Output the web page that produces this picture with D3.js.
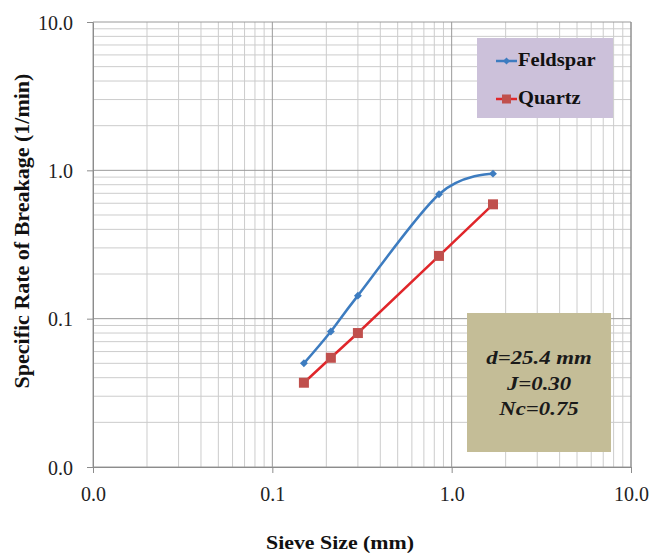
<!DOCTYPE html>
<html><head><meta charset="utf-8">
<script src="https://cdn.jsdelivr.net/npm/d3@7"></script>
<style>body{margin:0;background:#fff}svg{display:block}</style>
</head><body>
<svg id="c" width="651" height="556"></svg>
<script>
const sieveSize = [0.15, 0.212, 0.3, 0.85, 1.7];
const feldspar = [0.050, 0.082, 0.143, 0.69, 0.95];
const quartz = [0.037, 0.0545, 0.080, 0.265, 0.59];
const tickValues = [0.01, 0.1, 1, 10];
const tickLabels = ["0.0", "0.1", "1.0", "10.0"];
const seriesNames = ["Feldspar", "Quartz"];
const annotation = ["d=25.4 mm", "J=0.30", "Nc=0.75"];

const svg = d3.select("#c");
const L = 93, R = 631, T = 22, B = 467;
const x = d3.scaleLog().domain([0.01, 10]).range([L, R]);
const y = d3.scaleLog().domain([0.01, 10]).range([B, T]);
const serif = "'Liberation Serif','Times New Roman',serif";

// minor grid
const minors = [];
[0.01, 0.1, 1].forEach(d => { for (let k = 2; k <= 9; k++) minors.push(d * k); });
const g = svg.append("g");
g.selectAll(".vx").data(minors).join("line")
  .attr("x1", d => x(d)).attr("x2", d => x(d)).attr("y1", T).attr("y2", B)
  .attr("stroke", "#cccccc").attr("stroke-width", 1);
g.selectAll(".hy").data(minors).join("line")
  .attr("y1", d => y(d)).attr("y2", d => y(d)).attr("x1", L).attr("x2", R)
  .attr("stroke", "#cccccc").attr("stroke-width", 1);
// major grid
g.selectAll(".mx").data(tickValues).join("line")
  .attr("x1", d => x(d)).attr("x2", d => x(d)).attr("y1", T).attr("y2", B)
  .attr("stroke", "#9a9a9a").attr("stroke-width", 1);
g.selectAll(".my").data(tickValues).join("line")
  .attr("y1", d => y(d)).attr("y2", d => y(d)).attr("x1", L).attr("x2", R)
  .attr("stroke", "#9a9a9a").attr("stroke-width", 1);

// axes
const xAxis = d3.axisBottom(x).tickValues(tickValues).tickFormat((d, i) => tickLabels[i]).tickSize(6).tickSizeOuter(0);
const yAxis = d3.axisLeft(y).tickValues(tickValues).tickFormat((d, i) => tickLabels[i]).tickSize(6).tickPadding(14).tickSizeOuter(0);
const gx = svg.append("g").attr("transform", `translate(0,${B})`).call(xAxis);
const gy = svg.append("g").attr("transform", `translate(${L},0)`).call(yAxis);
[gx, gy].forEach(a => {
  a.selectAll("path,line").attr("stroke", "#8c8c8c");
  a.selectAll("text").attr("font-family", serif).attr("font-size", 20).attr("fill", "#222");
});
gx.selectAll("text").attr("y", 34).attr("dy", 0);
gy.selectAll("text").attr("dy", "0.35em");
// right border
svg.append("line").attr("x1", R).attr("x2", R).attr("y1", T).attr("y2", B).attr("stroke", "#8c8c8c");

// series
const blue = "#3d7cc0", red = "#e0262a", redMarker = "#c0504d";
const fData = sieveSize.map((s, i) => [s, feldspar[i]]);
const qData = sieveSize.map((s, i) => [s, quartz[i]]);
svg.append("path").datum(fData)
  .attr("d", d3.line().x(d => x(d[0])).y(d => y(d[1])).curve(d3.curveCatmullRom.alpha(0)))
  .attr("fill", "none").attr("stroke", blue).attr("stroke-width", 2.5);
svg.append("path").datum(qData)
  .attr("d", d3.line().x(d => x(d[0])).y(d => y(d[1])))
  .attr("fill", "none").attr("stroke", red).attr("stroke-width", 2.5);
svg.selectAll(".fm").data(fData).join("path")
  .attr("transform", d => `translate(${x(d[0])},${y(d[1])})`)
  .attr("d", d3.symbol(d3.symbolDiamond2, 40)()).attr("fill", blue);
svg.selectAll(".qm").data(qData).join("rect")
  .attr("x", d => x(d[0]) - 5).attr("y", d => y(d[1]) - 5)
  .attr("width", 10).attr("height", 10).attr("fill", redMarker);

// legend
const lg = svg.append("g");
lg.append("rect").attr("x", 477).attr("y", 38).attr("width", 136).attr("height", 80).attr("fill", "#ccc1da");
seriesNames.forEach((n, i) => {
  const yy = 61 + i * 38;
  lg.append("line").attr("x1", 496).attr("x2", 517).attr("y1", yy).attr("y2", yy).attr("stroke", i ? red : blue).attr("stroke-width", 2.5);
  if (i === 0) lg.append("path").attr("transform", `translate(506.5,${yy})`).attr("d", d3.symbol(d3.symbolDiamond2, 32)()).attr("fill", blue);
  else lg.append("rect").attr("x", 502).attr("y", yy - 4.5).attr("width", 9).attr("height", 9).attr("fill", redMarker);
  lg.append("text").attr("transform", `translate(518,${yy + 5}) scale(1.14,1)`).text(n)
    .attr("font-family", serif).attr("font-weight", "bold").attr("font-size", 18).attr("fill", "#111");
});

// annotation
const an = svg.append("g");
an.append("rect").attr("x", 467).attr("y", 313).attr("width", 144).attr("height", 139).attr("fill", "#c4bd97");
annotation.forEach((t, i) => {
  an.append("text").attr("transform", `translate(539,${364 + i * 25.5}) scale(1.2,1)`).attr("text-anchor", "middle").text(t)
    .attr("font-family", serif).attr("font-weight", "bold").attr("font-style", "italic").attr("font-size", 19).attr("fill", "#1a1a1a");
});

// titles
svg.append("text").attr("transform", "translate(340,549) scale(1.15,1)").attr("text-anchor", "middle").text("Sieve Size (mm)")
  .attr("font-family", serif).attr("font-weight", "bold").attr("font-size", 19).attr("fill", "#111");
svg.append("text").attr("transform", "translate(29,231) rotate(-90)").attr("text-anchor", "middle")
  .text("Specific Rate of Breakage (1/min)")
  .attr("font-family", serif).attr("font-weight", "bold").attr("font-size", 22).attr("fill", "#111");
</script>
</body></html>
